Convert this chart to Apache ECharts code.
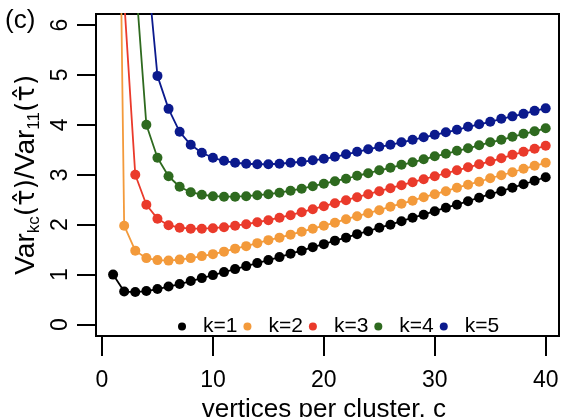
<!DOCTYPE html>
<html>
<head>
<meta charset="utf-8">
<script src="https://cdn.jsdelivr.net/npm/echarts@6/dist/echarts.min.js"></script>
<style>
  html, body { margin: 0; padding: 0; background: #fff; }
  #chart { width: 562px; height: 417px; }
</style>
</head>
<body>
<div id="chart"></div>
<script>
// vertices per cluster
var clusterSize = [1, 2, 3, 4, 5, 6, 7, 8, 9, 10, 11, 12, 13, 14, 15, 16, 17, 18, 19, 20,
  21, 22, 23, 24, 25, 26, 27, 28, 29, 30, 31, 32, 33, 34, 35, 36, 37, 38, 39, 40];

// Var_kc / Var_11 (null = not plotted)
var k1 = [1.00, 0.66, 0.65, 0.67, 0.71, 0.76, 0.81, 0.87, 0.93, 0.99, 1.05, 1.11, 1.17, 1.23, 1.29, 1.35, 1.42, 1.48, 1.55, 1.61,
  1.68, 1.74, 1.81, 1.87, 1.94, 2.00, 2.07, 2.14, 2.20, 2.27, 2.34, 2.40, 2.47, 2.54, 2.61, 2.67, 2.74, 2.81, 2.88, 2.95];
var k2 = [19.0, 1.98, 1.48, 1.33, 1.29, 1.28, 1.30, 1.33, 1.37, 1.41, 1.46, 1.52, 1.57, 1.63, 1.69, 1.74, 1.80, 1.86, 1.92, 1.98,
  2.04, 2.11, 2.17, 2.23, 2.29, 2.36, 2.42, 2.48, 2.55, 2.61, 2.67, 2.74, 2.80, 2.86, 2.93, 2.99, 3.05, 3.12, 3.18, 3.24];
var k3 = [null, 6.50, 3.00, 2.40, 2.12, 1.99, 1.94, 1.92, 1.92, 1.93, 1.95, 1.98, 2.01, 2.05, 2.09, 2.14, 2.19, 2.25, 2.31, 2.37,
  2.43, 2.49, 2.55, 2.61, 2.67, 2.73, 2.79, 2.85, 2.91, 2.97, 3.03, 3.09, 3.15, 3.21, 3.27, 3.33, 3.40, 3.46, 3.52, 3.58];
var k4 = [null, null, 7.00, 4.00, 3.34, 2.97, 2.76, 2.65, 2.60, 2.57, 2.56, 2.56, 2.57, 2.59, 2.61, 2.64, 2.68, 2.72, 2.77, 2.82,
  2.87, 2.92, 2.98, 3.03, 3.09, 3.14, 3.20, 3.25, 3.31, 3.37, 3.42, 3.48, 3.53, 3.59, 3.65, 3.70, 3.76, 3.82, 3.87, 3.93];
var k5 = [null, null, null, 7.35, 4.98, 4.32, 3.86, 3.60, 3.44, 3.34, 3.28, 3.24, 3.22, 3.21, 3.21, 3.22, 3.24, 3.26, 3.29, 3.32,
  3.36, 3.41, 3.46, 3.51, 3.56, 3.60, 3.65, 3.70, 3.75, 3.80, 3.85, 3.90, 3.96, 4.01, 4.06, 4.12, 4.17, 4.22, 4.28, 4.33];

var seriesNames = ['k=1', 'k=2', 'k=3', 'k=4', 'k=5'];
var seriesValues = [k1, k2, k3, k4, k5];
var colors = ['#000000', '#f39a3b', '#ea3a2b', '#2e6a1f', '#0b1a8d'];

var yTicks = [0, 1, 2, 3, 4, 5, 6];

var font = 'Liberation Sans, Arial, Helvetica, sans-serif';

function pairs(vals) {
  var out = [];
  for (var i = 0; i < clusterSize.length; i++) {
    if (vals[i] != null) out.push([clusterSize[i], vals[i]]);
  }
  return out;
}

var chart = echarts.init(document.getElementById('chart'));

var series = seriesNames.map(function (name, i) {
  return {
    name: name,
    type: 'line',
    xAxisIndex: 0,
    yAxisIndex: 0,
    data: pairs(seriesValues[i]),
    symbol: 'circle',
    symbolSize: 10,
    clip: true,
    itemStyle: { color: colors[i] },
    lineStyle: { color: colors[i], width: 1.8 },
    emphasis: { disabled: true }
  };
});

var hidden = {
  axisLine: { show: false, onZero: false },
  axisTick: { show: false },
  axisLabel: { show: false },
  splitLine: { show: false }
};

var option = {
  animation: false,
  backgroundColor: '#fff',
  textStyle: { fontFamily: font },
  graphic: [{
    type: 'text',
    left: 5,
    top: 8,
    style: { text: '(c)', font: '26px ' + font, fill: '#000' }
  }],
  grid: [
    // plotting box (R-style padded range)
    { left: 96, right: 3, top: 14, bottom: 81, show: true, borderColor: '#000', borderWidth: 2, outerBoundsMode: 'none' },
    // exact 0..40 / 0..6 span, carries the tick marks and labels
    { left: 102, right: 16.3, top: 25, bottom: 92.5, show: false, outerBoundsMode: 'none' }
  ],
  legend: {
    data: seriesNames,
    left: 173,
    top: 311,
    icon: 'circle',
    itemWidth: 32,
    itemHeight: 8,
    itemGap: 6,
    textStyle: { fontSize: 21, color: '#000', fontFamily: font }
  },
  xAxis: [
    Object.assign({ type: 'value', gridIndex: 0, min: -0.54, max: 41.2 }, hidden),
    {
      type: 'value', gridIndex: 1, min: 0, max: 40, interval: 10,
      offset: 11.5,
      splitLine: { show: false },
      axisLine: { show: true, onZero: false, lineStyle: { color: '#000', width: 2 } },
      axisTick: { show: true, length: 20, lineStyle: { color: '#000', width: 2 } },
      axisLabel: { margin: 33, fontSize: 23, color: '#000', fontFamily: font },
      name: 'vertices per cluster, c',
      nameLocation: 'middle',
      nameGap: 56,
      nameTextStyle: { fontSize: 26, color: '#000', fontFamily: font }
    }
  ],
  yAxis: [
    Object.assign({ type: 'value', gridIndex: 0, min: -0.23, max: 6.22 }, hidden),
    {
      type: 'value', gridIndex: 1, min: 0, max: 6, interval: 1,
      offset: 6,
      splitLine: { show: false },
      axisLine: { show: true, onZero: false, lineStyle: { color: '#000', width: 2 } },
      axisTick: { show: true, length: 19, lineStyle: { color: '#000', width: 2 } },
      axisLabel: { show: false },
      name: '{m|Var}{s|kc}{t|(τ̂)}{m|/Var}{s|11}{t|(τ̂)}',
      nameLocation: 'middle',
      nameRotate: 90,
      nameGap: 56,
      nameTextStyle: {
        rich: {
          m: { fontSize: 28, color: '#000', fontFamily: font, verticalAlign: 'bottom', lineHeight: 34 },
          t: { fontSize: 27, color: '#000', fontFamily: 'DejaVu Sans', verticalAlign: 'bottom', lineHeight: 34 },
          s: { fontSize: 17, color: '#000', fontFamily: font, verticalAlign: 'bottom', lineHeight: 34, padding: [0, 0, -3, 0] }
        }
      }
    }
  ],
  series: series
};

chart.setOption(option);

// y tick labels drawn parallel to the axis (R style), placed via the axis scale
var axisX = chart.convertToPixel({ xAxisIndex: 1 }, 0) - 6;
var yLabels = yTicks.map(function (v) {
  return {
    type: 'text',
    x: axisX - 35,
    y: chart.convertToPixel({ yAxisIndex: 1 }, v),
    rotation: Math.PI / 2,
    style: {
      text: String(v), font: '23px ' + font, fill: '#000',
      textAlign: 'center', textVerticalAlign: 'middle'
    }
  };
});
chart.setOption({ graphic: option.graphic.concat(yLabels) });
</script>
</body>
</html>
